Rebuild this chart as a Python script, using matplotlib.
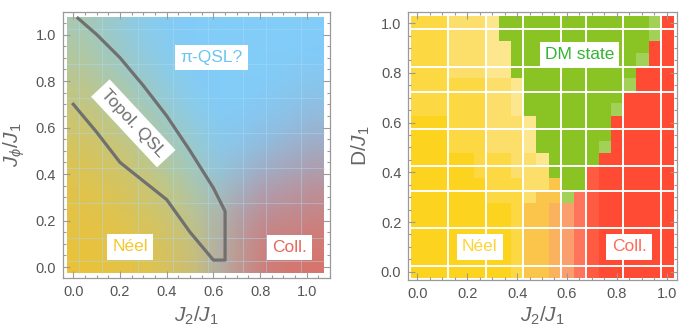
import numpy as np
import matplotlib.pyplot as plt
from matplotlib.colors import to_rgb
from matplotlib.ticker import MultipleLocator

plt.rcParams['font.family'] = ['Liberation Sans', 'DejaVu Sans']
plt.rcParams['mathtext.fontset'] = 'custom'
plt.rcParams['mathtext.rm'] = 'Liberation Sans'
plt.rcParams['mathtext.it'] = 'Liberation Sans:italic'

# ---- left panel: phase weights on a 0.1 grid (rows J_phi ~1.0 -> 0.0, cols J2 ~0.0 -> 1.0), in %
qsl_weight = [
    [62, 72, 84, 93, 98, 100, 100, 100, 100, 100, 100],
    [55, 66, 78, 89, 96, 100, 100, 100, 100, 100, 100],
    [47, 57, 69, 81, 92, 98, 100, 100, 100, 97, 95],
    [38, 47, 58, 72, 85, 95, 100, 100, 96, 92, 88],
    [29, 37, 48, 62, 76, 88, 96, 95, 90, 85, 78],
    [21, 27, 38, 50, 65, 80, 90, 88, 80, 72, 65],
    [14, 20, 28, 40, 55, 70, 82, 75, 65, 58, 50],
    [9, 13, 20, 30, 42, 58, 68, 60, 48, 42, 35],
    [6, 9, 14, 22, 33, 48, 55, 45, 32, 28, 22],
    [3, 5, 9, 15, 25, 38, 50, 35, 20, 16, 12],
    [0, 3, 6, 12, 20, 32, 48, 30, 15, 8, 5],
]
coll_weight = [
    [0, 0, 0, 0, 0, 0, 0, 0, 0, 0, 0],
    [0, 0, 0, 0, 0, 0, 0, 0, 0, 0, 2],
    [0, 0, 0, 0, 0, 0, 0, 0, 0, 3, 5],
    [0, 0, 0, 0, 0, 0, 0, 0, 4, 8, 12],
    [0, 0, 0, 0, 0, 0, 2, 5, 10, 15, 22],
    [0, 0, 0, 0, 0, 0, 4, 10, 20, 28, 35],
    [0, 0, 0, 0, 0, 2, 8, 20, 35, 42, 50],
    [0, 0, 0, 0, 0, 4, 15, 35, 52, 58, 65],
    [0, 0, 0, 0, 2, 6, 22, 50, 68, 72, 78],
    [0, 0, 0, 0, 3, 8, 28, 58, 80, 84, 88],
    [0, 0, 0, 0, 4, 10, 30, 60, 85, 92, 95],
]
neel_color = '#EAC23A'
qsl_color = '#82CCF8'
coll_color = '#DA7166'

topo_x = [0.02, 0.1, 0.2, 0.3, 0.4, 0.5, 0.6, 0.65, 0.65, 0.6, 0.5, 0.4, 0.3, 0.2, 0.1, 0.0]
topo_y = [1.07, 1.0, 0.9, 0.78, 0.65, 0.5, 0.34, 0.24, 0.03, 0.03, 0.15, 0.29, 0.37, 0.45, 0.58, 0.70]
left_mesh_x = [0.025, 0.125, 0.275, 0.425, 0.575, 0.725, 0.825, 0.975]
left_mesh_y = [0.025, 0.125, 0.275, 0.425, 0.575, 0.725, 0.875, 1.025]

# ---- right panel: phase per cell, 0.05 grid, rows D = 1.0 -> 0.0, cols J2 = 0.0 -> 1.0
dm_rows = [
    "yyylllpGGGGGGGGGGGGgR",
    "yyylllpGGGGGGGGGGGGgR",
    "yyylllppGGGGGGGGGGGRR",
    "yyylllppGGGGGGGGGGgRR",
    "yyylllppGGGGGGGGGGRRR",
    "yyyyyyllpGGGGGGGGgRRR",
    "yyyyyyllpGGGGGGGGRRRR",
    "yyyyyyllpGGGGGGGgRRRR",
    "YYYyyylllpGGGGGGRRRRR",
    "YYYyyylllpGGGGGGRRRRR",
    "YYYyyylllpGGGGGgRRRRR",
    "YYYYYyyyllpGGGGRRRRRR",
    "YYYYYyyylllGGGqRRRRRR",
    "YYYYYYyyylloGGqRRRRRR",
    "YYYYYYyyyloogrqRRRRRR",
    "YYYYYYYYyooOsrqRRRRRR",
    "YYYYYYYYyooOsrqRRRRRR",
    "YYYYYYYYyooOsrqRRRRRR",
    "YYYYYYYYyooOsrqRRRRRR",
    "YYYYYYYYyooOsrqRRRRRR",
    "YYYYYYYYyooOsrqRRRRRR",
]
cell_colors = {
    'Y': '#FCD31E', 'y': '#FCD843', 'l': '#FCDF6A', 'p': '#FCE68E',
    'o': '#FBC54B', 'O': '#FBB25E', 's': '#FA9E6E',
    'r': '#FF745A', 'q': '#FF5A42', 'R': '#FF4B33',
    'G': '#8AC424', 'g': '#A3D158',
}
mesh_x = [0.125, 0.275, 0.425, 0.575, 0.675, 0.825, 0.975]
mesh_y = [0.025, 0.175, 0.325, 0.425, 0.575, 0.725, 0.825, 0.975]

label_gray = '#666666'
frame_gray = '#9a9a9a'


def style_axes(ax, xlim, ylim):
    ax.set_xlim(*xlim)
    ax.set_ylim(*ylim)
    ax.xaxis.set_major_locator(MultipleLocator(0.2))
    ax.yaxis.set_major_locator(MultipleLocator(0.2))
    ax.xaxis.set_minor_locator(MultipleLocator(0.05))
    ax.yaxis.set_minor_locator(MultipleLocator(0.05))
    ax.xaxis.set_major_formatter(lambda v, p: f'{v:.1f}')
    ax.yaxis.set_major_formatter(lambda v, p: f'{v:.1f}')
    ax.tick_params(which='both', direction='in', top=True, right=True,
                   color=frame_gray, labelcolor='#555555', labelsize=10.5, width=0.8)
    ax.tick_params(which='major', length=5, pad=5)
    ax.tick_params(which='minor', length=2.5)
    for s in ax.spines.values():
        s.set_color(frame_gray)
        s.set_linewidth(0.9)


def boxed(ax, x, y, s, color, rot=0):
    ax.text(x, y, s, color=color, fontsize=12.5, ha='center', va='center', rotation=rot,
            rotation_mode='anchor', zorder=5,
            bbox=dict(boxstyle='square,pad=0.3', fc='white', ec='none'))


fig = plt.figure(figsize=(6.85, 3.29), dpi=100)

# ---------- left panel
ax1 = fig.add_axes([0.092, 0.155, 0.39, 0.808])
q = np.array(qsl_weight) / 100.0
c = np.array(coll_weight) / 100.0
n = 1.0 - q - c
rgb = (n[..., None] * np.array(to_rgb(neel_color)) +
       q[..., None] * np.array(to_rgb(qsl_color)) +
       c[..., None] * np.array(to_rgb(coll_color)))
ax1.imshow(np.clip(rgb, 0, 1), extent=[-0.025, 1.075, -0.025, 1.075],
           interpolation='bilinear', aspect='auto', zorder=1)
for xv in left_mesh_x:
    ax1.plot([xv, xv], [-0.025, 1.075], color='#a8dcf8', lw=0.7, alpha=0.45, zorder=2)
for yv in left_mesh_y:
    ax1.plot([-0.025, 1.075], [yv, yv], color='#a8dcf8', lw=0.7, alpha=0.45, zorder=2)
ax1.plot(topo_x, topo_y, color='#707070', lw=2.3, zorder=3)
style_axes(ax1, (-0.044, 1.1), (-0.047, 1.096))
ax1.set_xlabel(r'$J_2/J_1$', fontsize=15, color=label_gray, labelpad=4)
ax1.set_ylabel(r'$J_\phi/J_1$', fontsize=15, color=label_gray, labelpad=6)
boxed(ax1, 0.593, 0.90, 'π-QSL?', '#6CC4F5')
boxed(ax1, 0.243, 0.087, 'Néel', '#F5C830')
boxed(ax1, 0.926, 0.085, 'Coll.', '#E8685A')
boxed(ax1, 0.257, 0.618, 'Topol. QSL', '#707070', rot=-47)

# ---------- right panel
ax2 = fig.add_axes([0.596, 0.149, 0.392, 0.816])
grid = np.array([[to_rgb(cell_colors[ch]) for ch in row] for row in dm_rows])
ax2.imshow(grid, extent=[-0.025, 1.025, -0.025, 1.025], interpolation='nearest',
           aspect='auto', zorder=1)
for xv in mesh_x:
    ax2.plot([xv, xv], [-0.025, 1.025], color='white', lw=1.4, zorder=2)
for yv in mesh_y:
    ax2.plot([-0.025, 1.025], [yv, yv], color='white', lw=1.4, zorder=2)
style_axes(ax2, (-0.036, 1.04), (-0.033, 1.047))
ax2.set_xlabel(r'$J_2/J_1$', fontsize=15, color=label_gray, labelpad=3)
ax2.set_ylabel(r'$\mathrm{D}/J_1$', fontsize=15, color=label_gray, labelpad=6)
boxed(ax2, 0.65, 0.875, 'DM state', '#34B534')
boxed(ax2, 0.251, 0.10, 'Néel', '#FCD535')
boxed(ax2, 0.849, 0.10, 'Coll.', '#FF6B5A')

fig.savefig('out.png', dpi=100)
